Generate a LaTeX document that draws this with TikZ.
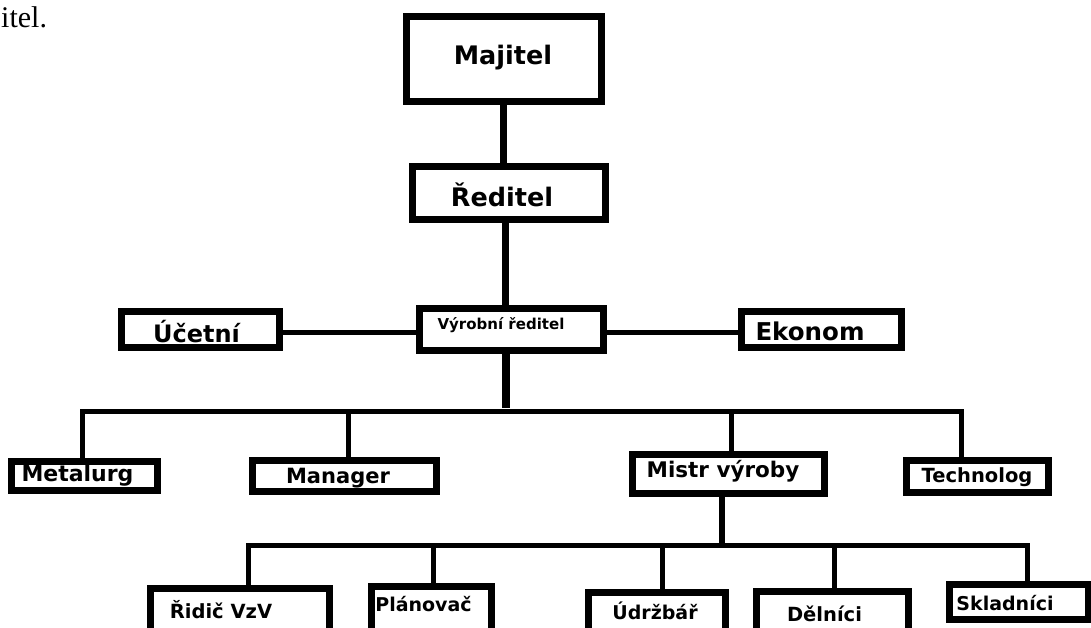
\documentclass[tikz,border=0pt]{standalone}
\usepackage{fontspec}
\setmainfont{Liberation Serif}
\newfontfamily\dvs{DejaVu Sans}
\newcommand{\fsz}[1]{\fontsize{#1}{#1}\selectfont}
\begin{document}
\begin{tikzpicture}[x=1pt,y=-1pt,
  box/.style={draw, line width=7pt, inner sep=0pt, line join=miter},
  conn/.style={line width=5pt, line join=miter},
  thickconn/.style={line width=7pt},
  lbl/.style={inner sep=0pt, anchor=base, font=\dvs\bfseries}]
\useasboundingbox (0,0) rectangle (1091,628);
\clip (0,0) rectangle (1091,628);
\fill[white] (0,0) rectangle (1091,628);

% boxes
\node[box, minimum width=195pt, minimum height=85pt] (maj) at (504,59) {};
\node[box, minimum width=193pt, minimum height=53pt] (red) at (509,193) {};
\node[box, minimum width=158pt, minimum height=36pt] (uce) at (200.5,329.5) {};
\node[box, minimum width=184pt, minimum height=42pt] (vyr) at (511.5,329.5) {};
\node[box, minimum width=160pt, minimum height=36pt] (eko) at (821.5,329.5) {};
\node[box, minimum width=146pt, minimum height=29pt] (met) at (84.5,476) {};
\node[box, minimum width=184pt, minimum height=31pt] (man) at (344.5,476) {};
\node[box, minimum width=192pt, minimum height=39pt] (mis) at (728.5,474) {};
\node[box, minimum width=142pt, minimum height=32pt] (tech) at (977.5,476.5) {};
\node[box, minimum width=179pt, minimum height=58pt] (rid) at (240,617.5) {};
\node[box, minimum width=120pt, minimum height=60pt] (pla) at (431.5,616.5) {};
\node[box, minimum width=137pt, minimum height=54pt] (udr) at (657,619.5) {};
\node[box, minimum width=152pt, minimum height=55pt] (del) at (832.5,619) {};
\node[box, minimum width=139pt, minimum height=35pt] (skl) at (1019,602) {};

% labels
\node[lbl, font=\fsz{30}\rmfamily, anchor=base west] (itel) at (1,28) {itel.};
\node[lbl, font=\dvs\bfseries\fsz{25.5}] (tmaj) at (503,65) {Majitel};
\node[lbl, font=\dvs\bfseries\fsz{25.5}] (tred) at (502,207) {Ředitel};
\node[lbl, font=\dvs\bfseries\fsz{24}] (tuce) at (196.5,342) {Účetní};
\node[lbl, font=\dvs\bfseries\fsz{15}] (tvyr) at (501,329) {Výrobní ředitel};
\node[lbl, font=\dvs\bfseries\fsz{24.5}] (teko) at (810,340) {Ekonom};
\node[lbl, font=\dvs\bfseries\fsz{22}] (tmet) at (77.5,481) {Metalurg};
\node[lbl, font=\dvs\bfseries\fsz{21}] (tman) at (338,483) {Manager};
\node[lbl, font=\dvs\bfseries\fsz{21.5}] (tmis) at (723,477) {Mistr výroby};
\node[lbl, font=\dvs\bfseries\fsz{19.5}] (ttech) at (977,482) {Technolog};
\node[lbl, font=\dvs\bfseries\fsz{19.5}] (trid) at (221,618) {Řidič VzV};
\node[lbl, font=\dvs\bfseries\fsz{19}] (tpla) at (423.5,611) {Plánovač};
\node[lbl, font=\dvs\bfseries\fsz{19}] (tudr) at (655,619) {Údržbář};
\node[lbl, font=\dvs\bfseries\fsz{19.5}] (tdel) at (824.5,621) {Dělníci};
\node[lbl, font=\dvs\bfseries\fsz{19}] (tskl) at (1005,610) {Skladníci};

% connectors
\coordinate (hub) at (506,411);
\coordinate (hub2) at (722,545);
\draw[thickconn] ([xshift=-1pt]maj.south) -- ([xshift=-1pt]maj.south |- red.north);
\draw[thickconn] ([xshift=-4pt]red.south) -- ([xshift=-4pt]red.south |- vyr.north);
\draw[conn] ([yshift=-2.5pt]uce.east) -- ([yshift=-2.5pt]vyr.west |- uce.east);
\draw[conn] ([yshift=-2.5pt]vyr.east) -- ([yshift=-2.5pt]eko.west |- vyr.east);
\draw[line width=8pt] (vyr.south -| hub) -- ([yshift=3pt]hub);
\draw[conn] ([xshift=-2.5pt]met.north) |- (hub) -| ([xshift=-16.5pt]tech.north);
\draw[conn] ([xshift=3.5pt]man.north) -- ([xshift=3.5pt]man.north |- hub);
\draw[conn] ([xshift=2.5pt]mis.north) -- ([xshift=2.5pt]mis.north |- hub);
\draw[line width=6pt] (mis.south -| hub2) -- (hub2);
\draw[conn] ([xshift=8pt]rid.north) |- (hub2) -| ([xshift=8pt]skl.north);
\draw[conn] ([xshift=1.5pt]pla.north) -- ([xshift=1.5pt]pla.north |- hub2);
\draw[conn] ([xshift=5pt]udr.north) -- ([xshift=5pt]udr.north |- hub2);
\draw[conn] ([xshift=1.5pt]del.north) -- ([xshift=1.5pt]del.north |- hub2);
\end{tikzpicture}
\end{document}
